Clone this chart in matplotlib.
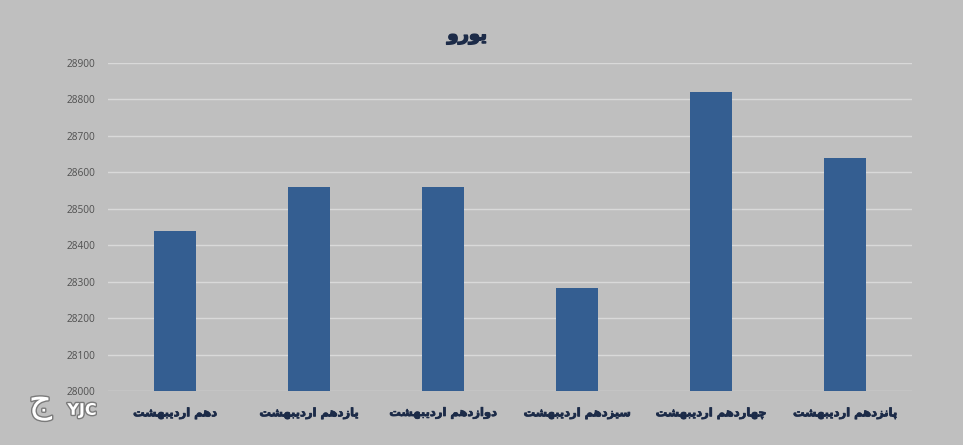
#!/usr/bin/env python3
"""Euro rate by day (Ordibehesht) - bar chart on grey background."""

import matplotlib
matplotlib.use("Agg")
import matplotlib.pyplot as plt
import matplotlib.patheffects as pe
import numpy as np

TITLE = "یورو"
DAYS = [
    "دهم اردیبهشت",
    "یازدهم اردیبهشت",
    "دوازدهم اردیبهشت",
    "سیزدهم اردیبهشت",
    "چهاردهم اردیبهشت",
    "پانزدهم اردیبهشت",
]
EURO = [28440, 28560, 28560, 28284, 28820, 28640]
Y_TICKS = [28000, 28100, 28200, 28300, 28400, 28500, 28600, 28700, 28800, 28900]

BG = "#bfbfbf"
BAR_COLOR = "#345e91"
TEXT_DARK = "#1c2b48"
GRID = "#d9d9d9"

# isolated, final, initial, medial presentation forms
FORMS = {
    "ا": ("\uFE8D", "\uFE8E", None, None),
    "ب": ("\uFE8F", "\uFE90", "\uFE91", "\uFE92"),
    "پ": ("\uFB56", "\uFB57", "\uFB58", "\uFB59"),
    "ت": ("\uFE95", "\uFE96", "\uFE97", "\uFE98"),
    "ج": ("\uFE9D", "\uFE9E", "\uFE9F", "\uFEA0"),
    "چ": ("\uFB7A", "\uFB7B", "\uFB7C", "\uFB7D"),
    "د": ("\uFEA9", "\uFEAA", None, None),
    "ر": ("\uFEAD", "\uFEAE", None, None),
    "ز": ("\uFEAF", "\uFEB0", None, None),
    "س": ("\uFEB1", "\uFEB2", "\uFEB3", "\uFEB4"),
    "ش": ("\uFEB5", "\uFEB6", "\uFEB7", "\uFEB8"),
    "م": ("\uFEE1", "\uFEE2", "\uFEE3", "\uFEE4"),
    "ن": ("\uFEE5", "\uFEE6", "\uFEE7", "\uFEE8"),
    "ه": ("\uFEE9", "\uFEEA", "\uFEEB", "\uFEEC"),
    "و": ("\uFEED", "\uFEEE", None, None),
    "ی": ("\uFBFC", "\uFBFD", "\uFBFE", "\uFBFF"),
}


def shape(text: str) -> str:
    """Minimal Persian shaping + visual (RTL) ordering for matplotlib."""
    out = []
    n = len(text)
    for i, ch in enumerate(text):
        if ch not in FORMS:
            out.append(ch)
            continue
        prev = text[i - 1] if i > 0 else None
        nxt = text[i + 1] if i + 1 < n else None
        join_prev = prev in FORMS and FORMS[prev][2] is not None
        join_next = FORMS[ch][2] is not None and nxt in FORMS
        iso, fin, ini, med = FORMS[ch]
        if join_prev and join_next:
            out.append(med)
        elif join_prev:
            out.append(fin)
        elif join_next:
            out.append(ini)
        else:
            out.append(iso)
    return "".join(reversed(out))


def main() -> None:
    plt.rcParams["font.family"] = ["DejaVu Sans"]

    fig = plt.figure(figsize=(9.63, 4.45), dpi=100, facecolor=BG)
    ax = fig.add_axes([0.1121, 0.1213, 0.835, 0.737], facecolor=BG)

    x = np.arange(len(EURO))
    ax.bar(x, EURO, width=0.313, color=BAR_COLOR, zorder=3)

    ax.set_xlim(-0.5, len(EURO) - 0.5)
    ax.set_ylim(Y_TICKS[0], Y_TICKS[-1])
    ax.set_yticks(Y_TICKS)
    ax.set_yticklabels([str(t) for t in Y_TICKS], fontsize=7.3,
                       color="#505050", family=["Open Sans", "DejaVu Sans"])
    ax.set_xticks(x)
    labels = ax.set_xticklabels([shape(d) for d in DAYS], fontsize=8.3,
                                fontweight="bold", color=TEXT_DARK)
    # Arabic glyphs have no bold face here: thicken them with a thin stroke
    for lbl in labels:
        lbl.set_path_effects([pe.withStroke(linewidth=0.55, foreground=TEXT_DARK)])
    ax.tick_params(axis="y", length=0, pad=9)
    ax.tick_params(axis="x", length=0, pad=11)
    ax.grid(axis="y", color=GRID, linewidth=1.0, zorder=0)
    for s in ax.spines.values():
        s.set_visible(False)

    fig.text(0.485, 0.921, shape(TITLE), ha="center", va="center",
             fontsize=13, fontweight="bold", color=TEXT_DARK,
             path_effects=[pe.withStroke(linewidth=1.0, foreground=TEXT_DARK)])

    # watermark logo
    stroke = [pe.withStroke(linewidth=2, foreground="#7a7a7a")]
    fig.text(0.070, 0.078, "YJC", ha="left", va="center", fontsize=11.5,
             fontweight="bold", color="white", path_effects=stroke)
    fig.text(0.042, 0.092, shape("ج"), ha="center", va="center", fontsize=26,
             color="white", path_effects=stroke)

    fig.savefig("out.png", dpi=100, facecolor=BG)
    plt.close(fig)


if __name__ == "__main__":
    main()
